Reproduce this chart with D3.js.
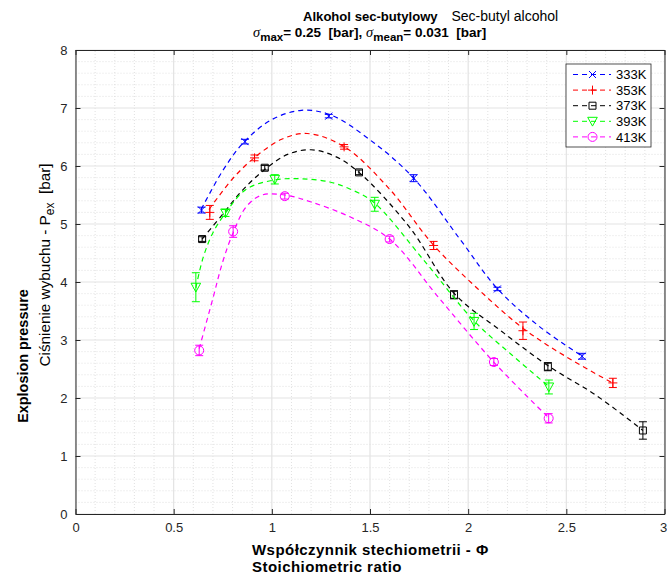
<!DOCTYPE html>
<html>
<head>
<meta charset="utf-8">
<script src="https://cdn.jsdelivr.net/npm/d3@7"></script>
<style>
  body { margin: 0; background: #fff; }
  svg { font-family: "Liberation Sans", Arial, sans-serif; }
</style>
</head>
<body>
<svg width="667" height="576"></svg>
<script>
const svgWidth = 667
const svgHeight = 576
const svg = d3.select('svg')

// measured points: stoichiometric ratio, explosion pressure, error (bar)
const seriesNames = ['333K', '353K', '373K', '393K', '413K']

const phi333 = [0.642, 0.863, 1.29, 1.722, 2.149, 2.58]
const pex333 = [5.24, 6.42, 6.86, 5.79, 3.88, 2.72]
const err333 = [0.05, 0.04, 0.03, 0.06, 0.03, 0.05]

const phi353 = [0.684, 0.912, 1.368, 1.824, 2.279, 2.737]
const pex353 = [5.2, 6.14, 6.33, 4.63, 3.16, 2.26]
const err353 = [0.12, 0.05, 0.04, 0.07, 0.15, 0.08]

const phi373 = [0.645, 0.964, 1.444, 1.928, 2.406, 2.89]
const pex373 = [4.74, 5.97, 5.89, 3.78, 2.54, 1.44]
const err373 = [0.04, 0.04, 0.04, 0.07, 0.07, 0.15]

const phi393 = [0.613, 0.764, 1.015, 1.524, 2.03, 2.411]
const pex393 = [3.91, 5.19, 5.77, 5.34, 3.32, 2.19]
const err393 = [0.25, 0.06, 0.08, 0.12, 0.14, 0.12]

const phi413 = [0.63, 0.803, 1.066, 1.6, 2.131, 2.41]
const pex413 = [2.82, 4.87, 5.48, 4.74, 2.62, 1.65]
const err413 = [0.09, 0.1, 0.05, 0.05, 0.06, 0.08]

// fitted dashed curves
const fitPhi333 = [0.64, 0.75, 0.86, 1.0, 1.15, 1.3, 1.5, 1.72, 1.96, 2.15, 2.36, 2.58]
const fitPex333 = [5.25, 5.92, 6.42, 6.8, 6.96, 6.88, 6.45, 5.8, 4.73, 3.88, 3.24, 2.72]

const fitPhi353 = [0.68, 0.8, 0.91, 1.05, 1.18, 1.37, 1.6, 1.82, 2.05, 2.28, 2.5, 2.74]
const fitPex353 = [5.25, 5.78, 6.14, 6.46, 6.56, 6.33, 5.6, 4.65, 3.88, 3.2, 2.71, 2.25]

const fitPhi373 = [0.645, 0.75, 0.85, 0.964, 1.08, 1.2, 1.32, 1.444, 1.7, 1.93, 2.17, 2.41, 2.65, 2.89]
const fitPex373 = [4.74, 5.17, 5.58, 5.94, 6.2, 6.28, 6.17, 5.89, 4.95, 3.8, 3.15, 2.55, 2.05, 1.44]

const fitPhi393 = [0.613, 0.65, 0.7, 0.764, 0.87, 1.015, 1.15, 1.3, 1.42, 1.524, 1.78, 2.03, 2.22, 2.41]
const fitPex393 = [3.9, 4.42, 4.85, 5.19, 5.6, 5.76, 5.78, 5.72, 5.57, 5.36, 4.35, 3.33, 2.75, 2.2]

const fitPhi413 = [0.63, 0.7, 0.75, 0.803, 0.87, 0.95, 1.066, 1.2, 1.4, 1.6, 1.85, 2.13, 2.41]
const fitPex413 = [2.85, 3.72, 4.35, 4.85, 5.3, 5.5, 5.5, 5.38, 5.12, 4.74, 3.73, 2.62, 1.66]

const xTicks = [0, 0.5, 1, 1.5, 2, 2.5, 3]
const yTicks = [0, 1, 2, 3, 4, 5, 6, 7, 8]

const colors = ['#0000ff', '#ff0000', '#000000', '#00ff00', '#ff00ff']
const markers = ['x', 'plus', 'square', 'triangle', 'circle']

const series = [
  [phi333, pex333, err333, fitPhi333, fitPex333],
  [phi353, pex353, err353, fitPhi353, fitPex353],
  [phi373, pex373, err373, fitPhi373, fitPex373],
  [phi393, pex393, err393, fitPhi393, fitPex393],
  [phi413, pex413, err413, fitPhi413, fitPex413],
].map(([phi, pex, err, fphi, fpex], i) => ({
  name: seriesNames[i],
  color: colors[i],
  marker: markers[i],
  points: phi.map((p, j) => ({ x: p, y: pex[j], e: err[j] })),
  fit: fphi.map((p, j) => ({ x: p, y: fpex[j] })),
}))

const margin = { left: 75.5, right: 2.5, top: 50, bottom: 62 }
const x = d3.scaleLinear().domain([0, 3]).range([margin.left, svgWidth - margin.right])
const y = d3.scaleLinear().domain([0, 8]).range([svgHeight - margin.bottom, margin.top])
const axisColor = '#262626'

// grid
const grid = svg.append('g')
grid.selectAll('.minx').data(d3.range(0, 3.01, 0.1).filter(v => Math.abs(v * 2 - Math.round(v * 2)) > 1e-6))
  .join('line')
  .attr('x1', d => x(d)).attr('x2', d => x(d))
  .attr('y1', y(0)).attr('y2', y(8))
  .attr('stroke', '#d9d9d9').attr('stroke-width', 0.8).attr('stroke-dasharray', '1,2')
grid.selectAll('.miny').data(d3.range(0, 8.01, 0.2).filter(v => Math.abs(v - Math.round(v)) > 1e-6))
  .join('line')
  .attr('y1', d => y(d)).attr('y2', d => y(d))
  .attr('x1', x(0)).attr('x2', x(3))
  .attr('stroke', '#d9d9d9').attr('stroke-width', 0.8).attr('stroke-dasharray', '1,2')
grid.selectAll('.majx').data(xTicks)
  .join('line')
  .attr('x1', d => x(d)).attr('x2', d => x(d))
  .attr('y1', y(0)).attr('y2', y(8))
  .attr('stroke', '#e3e3e3').attr('stroke-width', 1.2)
grid.selectAll('.majy').data(yTicks)
  .join('line')
  .attr('y1', d => y(d)).attr('y2', d => y(d))
  .attr('x1', x(0)).attr('x2', x(3))
  .attr('stroke', '#e3e3e3').attr('stroke-width', 1.2)

// axes
const tickFmt = d => d3.format('~g')(d)
function styleAxis(g) {
  g.select('.domain').attr('stroke', axisColor)
  g.selectAll('.tick line').attr('stroke', axisColor)
  g.selectAll('.tick text').attr('fill', axisColor).attr('font-size', 13)
}
const xAxis = svg.append('g')
  .attr('transform', `translate(0,${y(0)})`)
  .call(d3.axisBottom(x).tickValues(xTicks).tickFormat(tickFmt).tickSizeInner(-5).tickSizeOuter(0).tickPadding(9))
  .call(styleAxis)
xAxis.selectAll('.tick text').filter(d => d === 3).attr('dx', -1.5)
svg.append('g')
  .attr('transform', `translate(0,${y(8)})`)
  .call(d3.axisTop(x).tickValues(xTicks).tickFormat('').tickSizeInner(-5).tickSizeOuter(0))
  .call(styleAxis)
svg.append('g')
  .attr('transform', `translate(${x(0)},0)`)
  .call(d3.axisLeft(y).tickValues(yTicks).tickFormat(tickFmt).tickSizeInner(-5).tickSizeOuter(0).tickPadding(8))
  .call(styleAxis)
svg.append('g')
  .attr('transform', `translate(${x(3)},0)`)
  .call(d3.axisRight(y).tickValues(yTicks).tickFormat('').tickSizeInner(-5).tickSizeOuter(0))
  .call(styleAxis)

function markerPath(type) {
  const p = d3.path()
  if (type === 'x') {
    p.moveTo(-3.5, -3.5); p.lineTo(3.5, 3.5)
    p.moveTo(-3.5, 3.5); p.lineTo(3.5, -3.5)
  } else if (type === 'plus') {
    p.moveTo(-4.5, 0); p.lineTo(4.5, 0)
    p.moveTo(0, -4.5); p.lineTo(0, 4.5)
  } else if (type === 'square') {
    p.rect(-3.5, -3.5, 7, 7)
  } else if (type === 'triangle') {
    p.moveTo(-4.8, -4); p.lineTo(4.8, -4); p.lineTo(0, 4.8); p.closePath()
  } else {
    p.arc(0, 0, 4.5, 0, 2 * Math.PI)
  }
  return p.toString()
}

const line = d3.line().x(d => x(d.x)).y(d => y(d.y)).curve(d3.curveCatmullRom.alpha(0.5))

series.forEach(s => {
  svg.append('path')
    .attr('d', line(s.fit))
    .attr('fill', 'none')
    .attr('stroke', s.color)
    .attr('stroke-width', 1.2)
    .attr('stroke-dasharray', '5,4')
  const g = svg.append('g')
  s.points.forEach(p => {
    g.append('line')
      .attr('x1', x(p.x)).attr('x2', x(p.x))
      .attr('y1', y(p.y - p.e)).attr('y2', y(p.y + p.e))
      .attr('stroke', s.color).attr('stroke-width', 1)
    ;[p.y - p.e, p.y + p.e].forEach(v => {
      g.append('line')
        .attr('x1', x(p.x) - 4).attr('x2', x(p.x) + 4)
        .attr('y1', y(v)).attr('y2', y(v))
        .attr('stroke', s.color).attr('stroke-width', 1)
    })
    g.append('path')
      .attr('d', markerPath(s.marker))
      .attr('transform', `translate(${x(p.x)},${y(p.y)})`)
      .attr('fill', 'none')
      .attr('stroke', s.color)
      .attr('stroke-width', 1)
  })
})

// legend
const legend = svg.append('g').attr('transform', 'translate(566,64)')
legend.append('rect')
  .attr('width', 85).attr('height', 83)
  .attr('fill', '#fff').attr('stroke', axisColor).attr('stroke-width', 0.8)
series.forEach((s, i) => {
  const ly = 10.5 + i * 15.6
  legend.append('line')
    .attr('x1', 7).attr('x2', 45).attr('y1', ly).attr('y2', ly)
    .attr('stroke', s.color).attr('stroke-width', 1).attr('stroke-dasharray', '5,4')
  legend.append('path')
    .attr('d', markerPath(s.marker))
    .attr('transform', `translate(26.5,${ly})`)
    .attr('fill', 'none').attr('stroke', s.color).attr('stroke-width', 1)
  legend.append('text')
    .attr('x', 50).attr('y', ly + 4.6)
    .attr('font-size', 13).attr('fill', '#000')
    .text(s.name)
})

// title
svg.append('text')
  .attr('x', 303).attr('y', 21)
  .attr('font-size', 13.1).attr('font-weight', 'bold').attr('fill', '#000')
  .text('Alkohol sec-butylowy')
svg.append('text')
  .attr('x', 451.5).attr('y', 21)
  .attr('font-size', 14).attr('fill', '#000')
  .text('Sec-butyl alcohol')
const t2 = svg.append('text')
  .attr('x', 253).attr('y', 37)
  .attr('font-size', 13.5).attr('font-weight', 'bold').attr('fill', '#000')
t2.append('tspan').attr('font-weight', 'normal').attr('font-style', 'italic')
  .attr('font-family', 'Liberation Serif, serif').attr('font-size', 14.5).text('σ')
t2.append('tspan').attr('dy', 4).attr('font-size', 11.5).text('max')
t2.append('tspan').attr('dy', -4).attr('xml:space', 'preserve').text('= 0.25  [bar], ')
t2.append('tspan').attr('font-weight', 'normal').attr('font-style', 'italic')
  .attr('font-family', 'Liberation Serif, serif').attr('font-size', 14.5).text('σ')
t2.append('tspan').attr('dy', 4).attr('font-size', 11.5).text('mean')
t2.append('tspan').attr('dy', -4).attr('xml:space', 'preserve').text('= 0.031  [bar]')

// y labels
svg.append('text')
  .attr('transform', 'translate(28,356) rotate(-90)')
  .attr('text-anchor', 'middle')
  .attr('font-size', 14.4).attr('font-weight', 'bold').attr('fill', '#000')
  .text('Explosion pressure')
const yl = svg.append('text')
  .attr('transform', 'translate(50,265) rotate(-90)')
  .attr('text-anchor', 'middle')
  .attr('font-size', 15.3).attr('fill', '#000')
yl.append('tspan').text('Ciśnienie wybuchu - P')
yl.append('tspan').attr('dy', 4).attr('font-size', 12).text('ex')
yl.append('tspan').attr('dy', -4).attr('xml:space', 'preserve').text('  [bar]')

// x labels
svg.append('text')
  .attr('x', 252).attr('y', 554.5)
  .attr('font-size', 15).attr('letter-spacing', 0.45).attr('font-weight', 'bold').attr('fill', '#000')
  .text('Współczynnik stechiometrii - Φ')
svg.append('text')
  .attr('x', 252).attr('y', 572.3)
  .attr('font-size', 15).attr('letter-spacing', 0.45).attr('font-weight', 'bold').attr('fill', '#000')
  .text('Stoichiometric ratio')
</script>
</body>
</html>
